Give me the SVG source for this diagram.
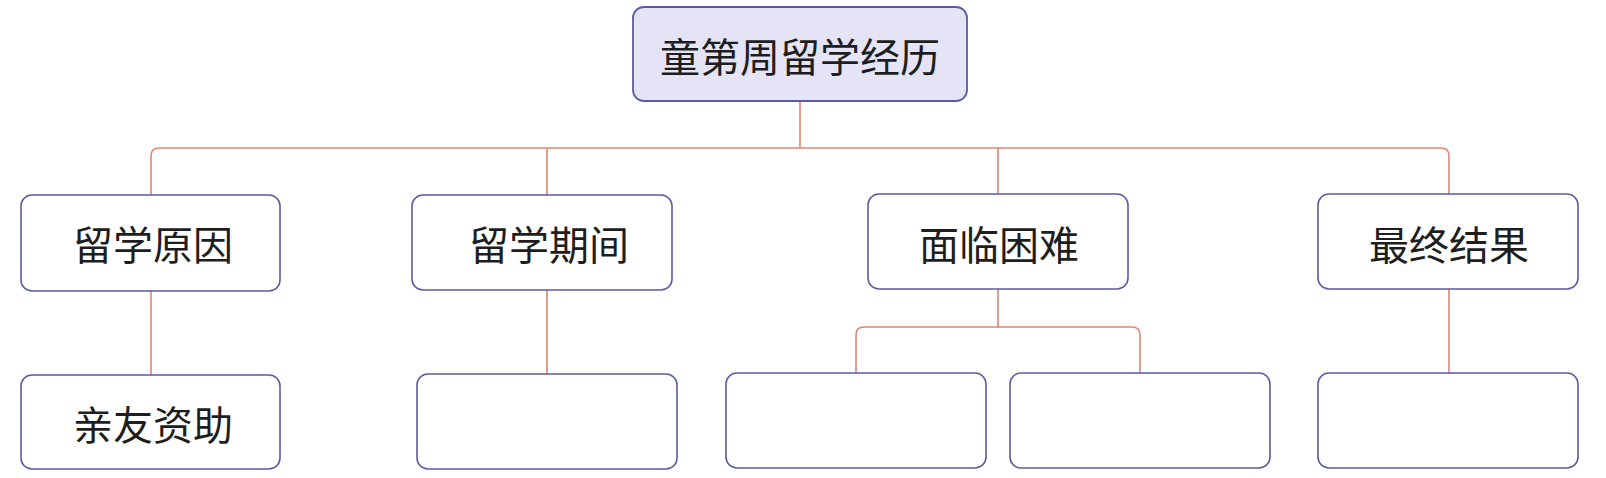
<svg xmlns="http://www.w3.org/2000/svg" width="1606" height="478" viewBox="0 0 1606 478">
<style>
.box{fill:#ffffff;stroke:#5b5ba3;stroke-width:1.6}
.root{fill:#e5e3f6;stroke:#5b5ba3;stroke-width:1.8}
.lbl{font-family:"Noto Sans CJK SC","Noto Sans",sans-serif;font-size:40px;fill:#1e1e1e;text-anchor:middle;dominant-baseline:central}
.con{fill:none;stroke:#e08572;stroke-width:1.6}
</style>
<rect width="1606" height="478" fill="#ffffff"/>
<g id="connectors">
<path class="con" d="M800,101 V148"/>
<path class="con" d="M151,195 V156 Q151,148 159,148 H1441 Q1449,148 1449,156 V194"/>
<path class="con" d="M547,148 V195"/>
<path class="con" d="M998,148 V194"/>
<path class="con" d="M151,291 V375"/>
<path class="con" d="M547,290 V374"/>
<path class="con" d="M998,289 V327"/>
<path class="con" d="M856,373 V335 Q856,327 864,327 H1132 Q1140,327 1140,335 V373"/>
<path class="con" d="M1449,289 V373"/>
</g>
<g id="root"><rect class="root" x="633" y="7" width="334" height="94" rx="11"/><text class="lbl" x="800" y="55">童第周留学经历</text></g>
<g id="n1"><rect class="box" x="21" y="195" width="259" height="96" rx="11"/><text class="lbl" x="153" y="243">留学原因</text></g>
<g id="n2"><rect class="box" x="412" y="195" width="260" height="95" rx="11"/><text class="lbl" x="549" y="243">留学期间</text></g>
<g id="n3"><rect class="box" x="868" y="194" width="260" height="95" rx="11"/><text class="lbl" x="999" y="243">面临困难</text></g>
<g id="n4"><rect class="box" x="1318" y="194" width="260" height="95" rx="11"/><text class="lbl" x="1449" y="243">最终结果</text></g>
<g id="n1a"><rect class="box" x="21" y="375" width="259" height="94" rx="11"/><text class="lbl" x="153" y="423">亲友资助</text></g>
<g id="n2a"><rect class="box" x="417" y="374" width="260" height="95" rx="11"/></g>
<g id="n3a"><rect class="box" x="726" y="373" width="260" height="95" rx="11"/></g>
<g id="n3b"><rect class="box" x="1010" y="373" width="260" height="95" rx="11"/></g>
<g id="n4a"><rect class="box" x="1318" y="373" width="260" height="95" rx="11"/></g>
</svg>
